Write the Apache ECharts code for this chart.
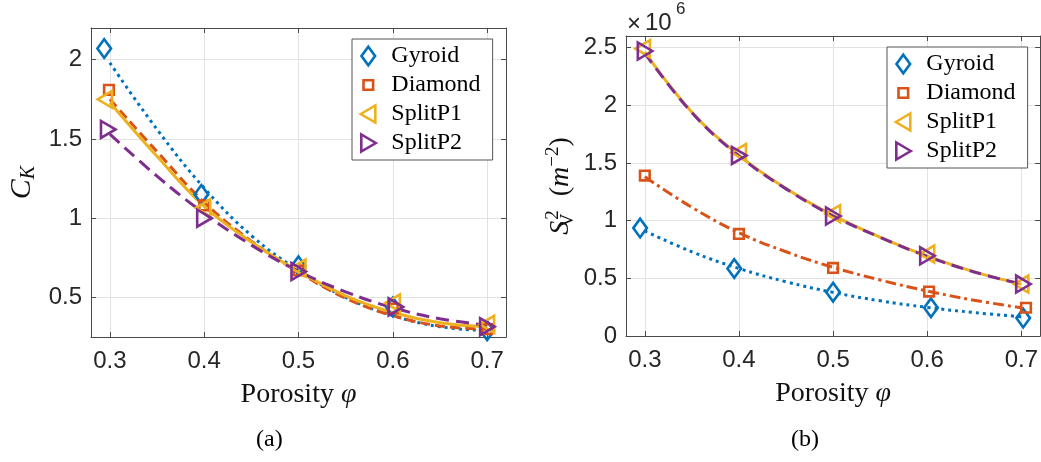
<!DOCTYPE html>
<html>
<head>
<meta charset="utf-8">
<script src="https://cdn.jsdelivr.net/npm/echarts@6/dist/echarts.min.js"></script>
<style>
html,body{margin:0;padding:0;background:#fff;}
#c{width:1041px;height:462px;}
</style>
</head>
<body>
<div id="c"></div>
<script>
// ---------- data ----------
const seriesNames = ['Gyroid', 'Diamond', 'SplitP1', 'SplitP2'];
const colors = ['#0072BD', '#D95319', '#EDB120', '#7E2F8E'];

// (a) C_K versus porosity — measured points
const ckGyroidX  = [0.294, 0.397, 0.500, 0.600, 0.700];
const ckGyroidY  = [2.07, 1.15, 0.70, 0.44, 0.29];
const ckDiamondX = [0.299, 0.400, 0.500, 0.600, 0.700];
const ckDiamondY = [1.81, 1.08, 0.67, 0.43, 0.30];
const ckSplitP1X = [0.295, 0.399, 0.500, 0.600, 0.700];
const ckSplitP1Y = [1.75, 1.065, 0.685, 0.465, 0.33];
const ckSplitP2X = [0.298, 0.400, 0.500, 0.603, 0.700];
const ckSplitP2Y = [1.56, 1.00, 0.663, 0.44, 0.315];

// (a) fitted curves, read at these porosities
const fitX = [0.30, 0.35, 0.40, 0.45, 0.50, 0.55, 0.60, 0.65, 0.70];
const ckFitGyroid  = [1.98, 1.56, 1.19, 0.89, 0.67, 0.50, 0.385, 0.315, 0.29];
const ckFitDiamond = [1.75, 1.42, 1.10, 0.855, 0.66, 0.495, 0.385, 0.32, 0.30];
const ckFitSplitP1 = [1.73, 1.39, 1.075, 0.85, 0.665, 0.51, 0.405, 0.34, 0.315];
const ckFitSplitP2 = [1.53, 1.265, 1.03, 0.83, 0.665, 0.535, 0.435, 0.365, 0.325];

// (b) S_V^2 versus porosity, in units of 1e6 m^-2 — measured points
const svGyroidX  = [0.295, 0.395, 0.500, 0.604, 0.702];
const svGyroidY  = [0.935, 0.585, 0.38, 0.245, 0.155];
const svDiamondX = [0.300, 0.400, 0.500, 0.602, 0.705];
const svDiamondY = [1.39, 0.885, 0.59, 0.385, 0.245];
const svSplitP1X = [0.298, 0.400, 0.500, 0.600, 0.700];
const svSplitP1Y = [2.49, 1.59, 1.06, 0.71, 0.45];
const svSplitP2X = [0.300, 0.400, 0.500, 0.600, 0.702];
const svSplitP2Y = [2.47, 1.565, 1.04, 0.695, 0.45];

// (b) fitted curves
const svFitGyroid  = [0.91, 0.73, 0.585, 0.47, 0.378, 0.305, 0.248, 0.203, 0.167];
const svFitDiamond = [1.38, 1.115, 0.895, 0.73, 0.595, 0.485, 0.39, 0.31, 0.245];
const svFitSplitP1 = [2.46, 1.94, 1.566, 1.278, 1.045, 0.855, 0.692, 0.556, 0.45];
const svFitSplitP2 = [2.45, 1.935, 1.56, 1.275, 1.04, 0.855, 0.69, 0.555, 0.45];

// axis ranges
const xRange = [0.28, 0.72];
const ckRange = [0.25, 2.2];
const svRange = [0, 2.6];

// ---------- styling ----------
const FRAME = 'M-10 -10 M10 10 ';
const symbols = [
  'path://' + FRAME + 'M0 -9.3 L6.8 0 L0 9.3 L-6.8 0 Z',
  'path://' + FRAME + 'M-4.8 -4.8 L4.8 -4.8 L4.8 4.8 L-4.8 4.8 Z',
  'path://' + FRAME + 'M-7.5 0 L7 -8.5 L7 8.5 Z',
  'path://' + FRAME + 'M7.5 0 L-7 -8.5 L-7 8.5 Z'
];
const lineTypesA = [[3, 4], [10, 5], 'solid', [13, 7]];
const lineTypesB = [[3, 4], [11, 4, 3, 4], 'solid', [12, 7]];

const tickFont = {fontFamily: 'Liberation Sans', fontSize: 24, color: '#262626'};
const axisColor = '#4a4a4a';

function xAxisFor(grid, pos) {
  const main = pos === 'bottom';
  return {
    type: 'value', gridIndex: grid, position: pos, min: xRange[0], max: xRange[1],
    axisLine: {show: true, onZero: false, lineStyle: {color: axisColor, width: 1}},
    axisTick: {show: true, inside: true, length: 5, lineStyle: {color: axisColor}},
    axisLabel: Object.assign({show: main, margin: 12, showMinLabel: false, showMaxLabel: false}, tickFont),
    splitLine: {show: main, lineStyle: {color: '#e2e2e2', width: 1}},
    name: main ? 'Porosity {i|φ}' : '',
    nameLocation: 'middle', nameGap: 43,
    nameTextStyle: {fontFamily: 'Liberation Serif', fontSize: 28, color: '#111', lineHeight: 30,
      rich: {i: {fontFamily: 'Liberation Serif', fontStyle: 'italic', fontSize: 28, color: '#111'}}}
  };
}
function yAxisFor(grid, pos, range, split, name, gap, rich) {
  const main = pos === 'left';
  return {
    type: 'value', gridIndex: grid, position: pos, min: range[0], max: range[1], splitNumber: split,
    axisLine: {show: true, onZero: false, lineStyle: {color: axisColor, width: 1}},
    axisTick: {show: true, inside: true, length: 5, lineStyle: {color: axisColor}},
    axisLabel: Object.assign({show: main, margin: 9, showMinLabel: range[0] === 0, showMaxLabel: false}, tickFont),
    splitLine: {show: main, lineStyle: {color: '#e2e2e2', width: 1}},
    name: main ? name : '',
    nameLocation: 'middle', nameGap: gap, nameRotate: 90,
    nameTextStyle: {fontFamily: 'Liberation Serif', fontSize: 28, color: '#111', lineHeight: 34, rich: rich}
  };
}

const richCK = {
  i: {fontFamily: 'Liberation Serif', fontStyle: 'italic', fontSize: 30, color: '#111', lineHeight: 34},
  s: {fontFamily: 'Liberation Serif', fontStyle: 'italic', fontSize: 20, color: '#111', verticalAlign: 'bottom', lineHeight: 20}
};
const richSV = {
  i: {fontFamily: 'Liberation Serif', fontStyle: 'italic', fontSize: 28, color: '#111', lineHeight: 34},
  n: {fontFamily: 'Liberation Serif', fontSize: 28, color: '#111', lineHeight: 34},
  sb: {fontFamily: 'Liberation Serif', fontSize: 19, color: '#111', verticalAlign: 'bottom', lineHeight: 19, width: 1},
  sp: {fontFamily: 'Liberation Serif', fontSize: 19, color: '#111', verticalAlign: 'top', lineHeight: 19}
};

function zip(xs, ys) { return xs.map((x, i) => [x, ys[i]]); }

const ckPoints = [[ckGyroidX, ckGyroidY], [ckDiamondX, ckDiamondY], [ckSplitP1X, ckSplitP1Y], [ckSplitP2X, ckSplitP2Y]];
const ckFits = [ckFitGyroid, ckFitDiamond, ckFitSplitP1, ckFitSplitP2];
const svPoints = [[svGyroidX, svGyroidY], [svDiamondX, svDiamondY], [svSplitP1X, svSplitP1Y], [svSplitP2X, svSplitP2Y]];
const svFits = [svFitGyroid, svFitDiamond, svFitSplitP1, svFitSplitP2];

const series = [];
function addPanel(points, fits, lineTypes, xIdx, yIdx, tag) {
  fits.forEach((f, k) => {
    series.push({
      type: 'line', name: seriesNames[k] + ' fit ' + tag, xAxisIndex: xIdx, yAxisIndex: yIdx,
      data: zip(fitX, f), smooth: 0.4, showSymbol: false, symbol: 'none', z: 2,
      lineStyle: {color: colors[k], width: 3, type: lineTypes[k], cap: 'butt'}
    });
  });
  points.forEach((p, k) => {
    series.push({
      type: 'scatter', name: seriesNames[k], xAxisIndex: xIdx, yAxisIndex: yIdx,
      data: zip(p[0], p[1]), symbol: symbols[k], symbolSize: 20, z: 3,
      itemStyle: {color: 'rgba(255,255,255,0)', borderColor: colors[k], borderWidth: 2.6, opacity: 1}
    });
  });
}
addPanel(ckPoints, ckFits, lineTypesA, 0, 0, 'a');
addPanel(svPoints, svFits, lineTypesB, 2, 2, 'b');

function legendAt(left, top) {
  return {
    data: seriesNames, orient: 'vertical', left: left, top: top,
    itemWidth: 36, itemHeight: 20, itemGap: 5, padding: [5, 12, 5, 5],
    backgroundColor: '#fff', borderColor: '#555', borderWidth: 1, borderRadius: 0,
    itemStyle: {borderWidth: 2.6},
    textStyle: {fontFamily: 'Liberation Serif', fontSize: 24, color: '#000', lineHeight: 24},
    selectedMode: false
  };
}

const option = {
  animation: false,
  backgroundColor: '#fff',
  grid: [
    {left: 91, top: 28, width: 415, height: 309},
    {left: 626, top: 36, width: 415, height: 300}
  ],
  xAxis: [xAxisFor(0, 'bottom'), xAxisFor(0, 'top'), xAxisFor(1, 'bottom'), xAxisFor(1, 'top')],
  yAxis: [
    yAxisFor(0, 'left', ckRange, 4, '{i|C}{s|K}', 52, richCK),
    yAxisFor(0, 'right', ckRange, 4, '', 0, richCK),
    yAxisFor(1, 'left', svRange, 5, '{i|S}{sb|V}{sp|2}  {n|(}{i|m}{sp|−2}{n|)}', 48, richSV),
    yAxisFor(1, 'right', svRange, 5, '', 0, richSV)
  ],
  legend: [legendAt(352, 39), legendAt(887, 47)],
  series: series,
  graphic: [
    {type: 'text', left: 627, top: 12, style: {text: '×', font: '24px "Liberation Sans"', fill: '#262626'}},
    {type: 'text', left: 645, top: 11, style: {text: '10', font: '24px "Liberation Sans"', fill: '#262626'}},
    {type: 'text', left: 676, top: 1, style: {text: '6', font: '17px "Liberation Sans"', fill: '#262626'}},
    {type: 'text', left: 256, top: 428, style: {text: '(a)', font: '24px "Liberation Serif"', fill: '#000'}},
    {type: 'text', left: 791, top: 428, style: {text: '(b)', font: '24px "Liberation Serif"', fill: '#000'}}
  ]
};

const chart = echarts.init(document.getElementById('c'), null, {renderer: 'canvas'});
chart.setOption(option);
</script>
</body>
</html>
